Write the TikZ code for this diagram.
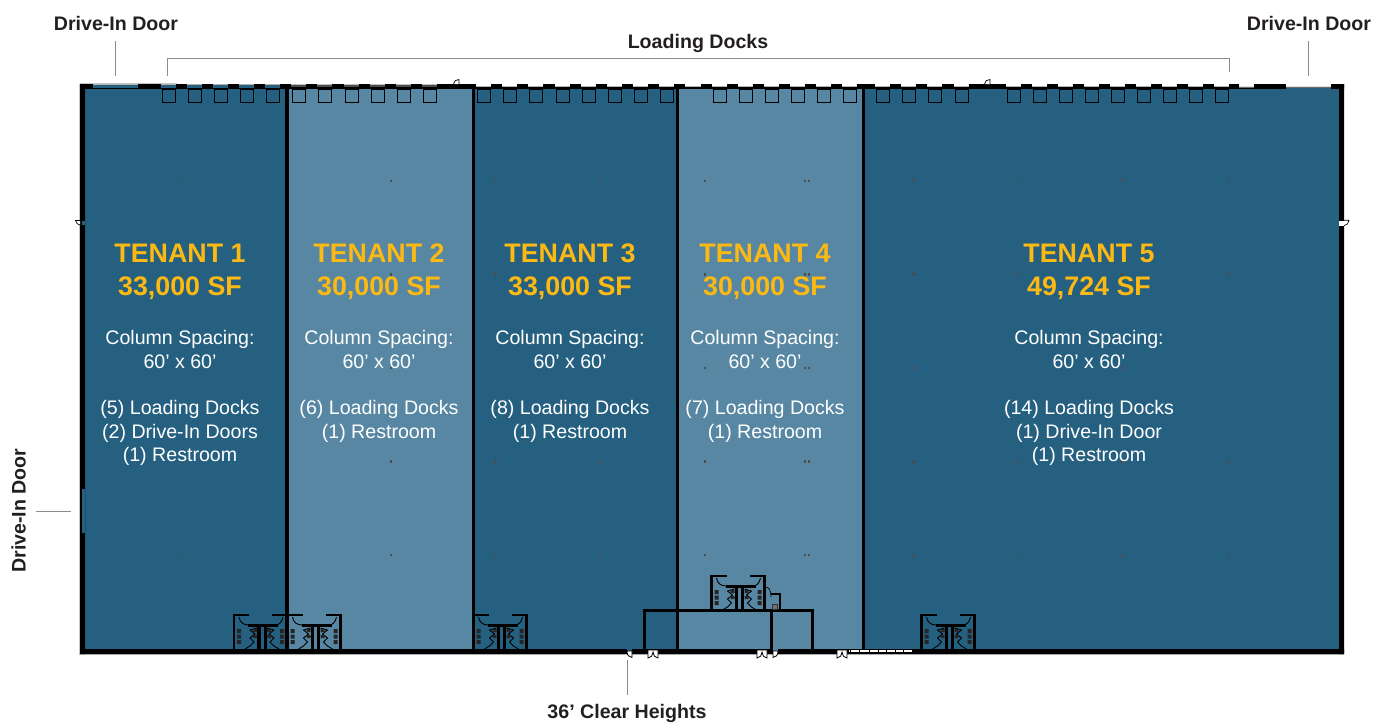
\documentclass[tikz,border=0pt]{standalone}
\usepackage{fontspec}
\setmainfont{Liberation Sans}
\definecolor{darkbay}{HTML}{256080}
\definecolor{lightbay}{HTML}{5787A2}
\definecolor{gold}{HTML}{FDB913}
\definecolor{labelink}{HTML}{231F20}
\tikzset{
  bigtext/.style={text=gold,font=\bfseries\fontsize{26.8}{33}\selectfont,align=center,anchor=base},
  bodytext/.style={text=white,font=\fontsize{19.6}{23.4}\selectfont,align=center,anchor=north},
  doorlabel/.style={text=labelink,font=\bfseries\fontsize{19.6}{22}\selectfont,anchor=base},
  leader/.style={draw=gray!90,line width=0.9pt},
  wall/.style={draw=black,line width=3pt},
  thinwall/.style={draw=black,line width=0.9pt},
  pics/restroom/.style={code={
    \draw[line width=2.8pt] (15,0) -- (0,0) -- (0,35);
    \draw[line width=2.8pt] (38,0) -- (53,0) -- (53,35);
    \draw[line width=0.9pt] (5,2) .. controls (6,8) and (10,10) .. (15,10);
    \draw[line width=0.9pt] (49,2) .. controls (48,8) and (44,10) .. (42,10);
    \draw[line width=3pt] (14,10.5) -- (44,10.5);
    \draw[line width=3.4pt] (25,10) -- (25,35);
    \draw[line width=3pt] (31,10) -- (31,35);
    \draw[line width=0.9pt] (23,13) -- (16,15) -- (21,19) -- (16,23) -- (20,27) -- (16,31) -- (11,34);
    \draw[line width=0.9pt] (33,13) -- (40,15) -- (35,19) -- (40,23) -- (36,27) -- (40,31) -- (45,34);
    \fill[black!85] (3,14) rectangle (7,18) (3,19.5) rectangle (7,23.5) (3,25) rectangle (7,29);
    \fill[black!85] (46,14) rectangle (50,18) (46,19.5) rectangle (50,23.5) (46,25) rectangle (50,29);
    \fill[black!85] (19,14) rectangle (23,17) (33,14) rectangle (37,17);
    \fill[black!85] (19,20) rectangle (23,23) (33,20) rectangle (37,23);
  }},
  pics/twodoor/.style={code={
    \draw[fill=white,line width=0.8pt] (0,0) -- (0,8) .. controls (3,8) and (5,5) .. (5,2) .. controls (5,5) and (7,8) .. (10,8) -- (10,0) -- cycle;
  }},
  pics/onedoorleft/.style={code={
    \fill[darkbay] (0,-1) rectangle (5,1);
    \draw[fill=white,line width=0.8pt] (0,1) .. controls (0,5) and (2,7.5) .. (5,7.5) -- (5,1) -- cycle;
  }},
  pics/onedoorright/.style={code={
    \fill[lightbay] (0,-1) rectangle (5,1);
    \draw[fill=white,line width=0.8pt] (0,1) -- (0,7.5) .. controls (3,7.5) and (5,5) .. (5,1) -- cycle;
  }}
}
\begin{document}
\begin{tikzpicture}[x=1pt,y=-1pt]
\useasboundingbox (0,0) rectangle (1384,728);
% bays
\fill[darkbay] (82,86) rectangle (287,652);
\fill[lightbay] (287,86) rectangle (474,652);
\fill[darkbay] (474,86) rectangle (678,652);
\fill[lightbay] (678,86) rectangle (864,652);
\fill[darkbay] (864,86) rectangle (1342,652);
% outer walls
\draw[gray!45,line width=0.6pt] (80,83.7) -- (177,83.7) (79.7,84) -- (79.7,654.6) -- (1344,654.6);
\fill[black] (80,84) rectangle (85,654) (1339,84) rectangle (1344,654);
\fill[black] (80,649) rectangle (1344,654) (80,84) rectangle (1344,88.8);
% dock openings and squares
\foreach \sx in {162,188,214,240,266}{
  \fill[darkbay] (\sx-1,84.6) rectangle (\sx+14,88.3);
  \fill[gray!60] (\sx-1,84) rectangle (\sx+14,84.6);
  \draw[thinwall] (\sx,89) rectangle (\sx+13,102);
}
\foreach \sx in {292,318,345,371,397,423}{
  \fill[black!70] (\sx-1,84) rectangle (\sx+14,87);
  \fill[gray!50] (\sx-1,84) rectangle (\sx+14,85);
  \draw[thinwall] (\sx,89) rectangle (\sx+13,102);
}
\foreach \sx in {477,503,529,556,582,608,634,660,713,739,765,791,817,843,876,902,928,955,1007,1033,1059,1085,1111,1137,1163,1189,1215}{
  \fill[white] (\sx-1,84) rectangle (\sx+14,86);
  \fill[gray!60] (\sx-1,85.7) rectangle (\sx+14,86.7);
  \draw[thinwall] (\sx,89) rectangle (\sx+13,102);
}
\fill[white] (685,84) rectangle (701,86);
\fill[gray!60] (685,85.7) rectangle (701,86.7);
% drive-in doors
\fill[darkbay] (93,84.6) rectangle (138,88.3);
\fill[gray!60] (93,84) rectangle (138,84.6);
\fill[white] (1239,84) rectangle (1254,86.5);
\fill[white] (1286,84) rectangle (1331,86.5);
\fill[gray!70] (1239,86.5) rectangle (1254,87.5) (1286,86.5) rectangle (1331,87.5);
\fill[darkbay] (1286,87.5) rectangle (1331,89);
\fill[darkbay] (81.5,489) rectangle (84.5,533);
% interior walls
\foreach \wx in {287,473.5,677.5,863.5}
  \draw[black,line width=3.2pt] (\wx,87) -- (\wx,650);
\draw[wall] (644.5,650) -- (644.5,610) -- (812.5,610) -- (812.5,650);
\draw[wall] (771,610) -- (771,650);
% side doors
\draw[fill=white,line width=0.7pt] (453.5,84) .. controls (454,81) and (456,79.5) .. (459,79.5) -- (459,84);
\draw[fill=white,line width=0.7pt] (984.5,84) .. controls (985,81) and (987,79.5) .. (990,79.5) -- (990,84);
\fill[darkbay] (82,221) rectangle (85,225);
\draw[fill=white,line width=0.7pt] (80,220.5) -- (75.5,220.5) .. controls (76,223) and (78,225) .. (80,225);
\fill[white] (1339,220) rectangle (1344,226);
\draw[fill=white,line width=0.7pt] (1344,220.3) -- (1349,220.3) .. controls (1348.5,223) and (1347,225.5) .. (1344,225.7);
\draw[line width=0.5pt] (1339,220.3) -- (1344,220.3);
% restroom blocks
\pic at (234,615) {restroom};
\pic at (287.5,615) {restroom};
\pic at (473.5,615) {restroom};
\pic at (921.5,615) {restroom};
\pic at (711.5,576) {restroom};
% closet by the upper restrooms
\draw[line width=2pt] (771,593.5) -- (779.5,593.5) -- (779.5,610);
\draw[line width=0.7pt] (765,587) .. controls (769,587) and (771,590) .. (771,597);
\draw[fill=black!55,draw=black!80,line width=0.8pt] (772.5,604.5) rectangle (777,609);
% bottom doors
\pic at (627,650) {onedoorleft};
\pic at (648,650) {twodoor};
\pic at (757,650) {twodoor};
\pic at (773,650) {onedoorright};
\pic at (837,650) {twodoor};
% overhead strip
\draw[fill=white,line width=0.6pt] (848,649.3) rectangle (912,652.7);
\foreach \cx in {850,859.3,869.3,878.3,886.7,895,903.3}
  \draw[black,line width=0.8pt] (\cx,649.3) -- (\cx,652.7);
% column marks
\foreach \cx in {182,391,495.5,600,705,805,809,913.5,1018,1122.5,1228}
  \foreach \cy in {181,274.5,368,461.5,555}
    \fill[black!70] (\cx-1.2,\cy-1.4) rectangle (\cx+1.2,\cy+1.4);
% tenants
\node[bigtext] (head1) at (180,295.5) {TENANT 1\\33,000 SF};
\node[bigtext] (head2) at (379,295.5) {TENANT 2\\30,000 SF};
\node[bigtext] (head3) at (570,295.5) {TENANT 3\\33,000 SF};
\node[bigtext] (head4) at (765,295.5) {TENANT 4\\30,000 SF};
\node[bigtext] (head5) at (1089,295.5) {TENANT 5\\49,724 SF};
\node[bodytext] (info1) at (180,327) {Column Spacing:\\60’ x 60’\\[23.4pt](5) Loading Docks\\(2) Drive-In Doors\\(1) Restroom};
\node[bodytext] (info2) at (379,327) {Column Spacing:\\60’ x 60’\\[23.4pt](6) Loading Docks\\(1) Restroom};
\node[bodytext] (info3) at (570,327) {Column Spacing:\\60’ x 60’\\[23.4pt](8) Loading Docks\\(1) Restroom};
\node[bodytext] (info4) at (765,327) {Column Spacing:\\60’ x 60’\\[23.4pt](7) Loading Docks\\(1) Restroom};
\node[bodytext] (info5) at (1089,327) {Column Spacing:\\60’ x 60’\\[23.4pt](14) Loading Docks\\(1) Drive-In Door\\(1) Restroom};
% labels
\node[doorlabel] (topleft) at (116,30.5) {Drive-In Door};
\node[doorlabel] (topright) at (1309,30.5) {Drive-In Door};
\node[doorlabel] (docks) at (698,48.5) {Loading Docks};
\node[doorlabel,rotate=90] (sideleft) at (25.5,510.5) {Drive-In Door};
\node[doorlabel] (clear) at (627,718.5) {36’ Clear Heights};
\draw[leader] (115.7,41) -- (115.7,76);
\draw[leader] (1308.7,41) -- (1308.7,76);
\draw[leader] (167,76) -- (167,58.5) -- (1229.7,58.5) -- (1229.7,72);
\draw[leader] (36,511) -- (71,511);
\draw[leader] (627.7,660) -- (627.7,695);
\end{tikzpicture}
\end{document}
